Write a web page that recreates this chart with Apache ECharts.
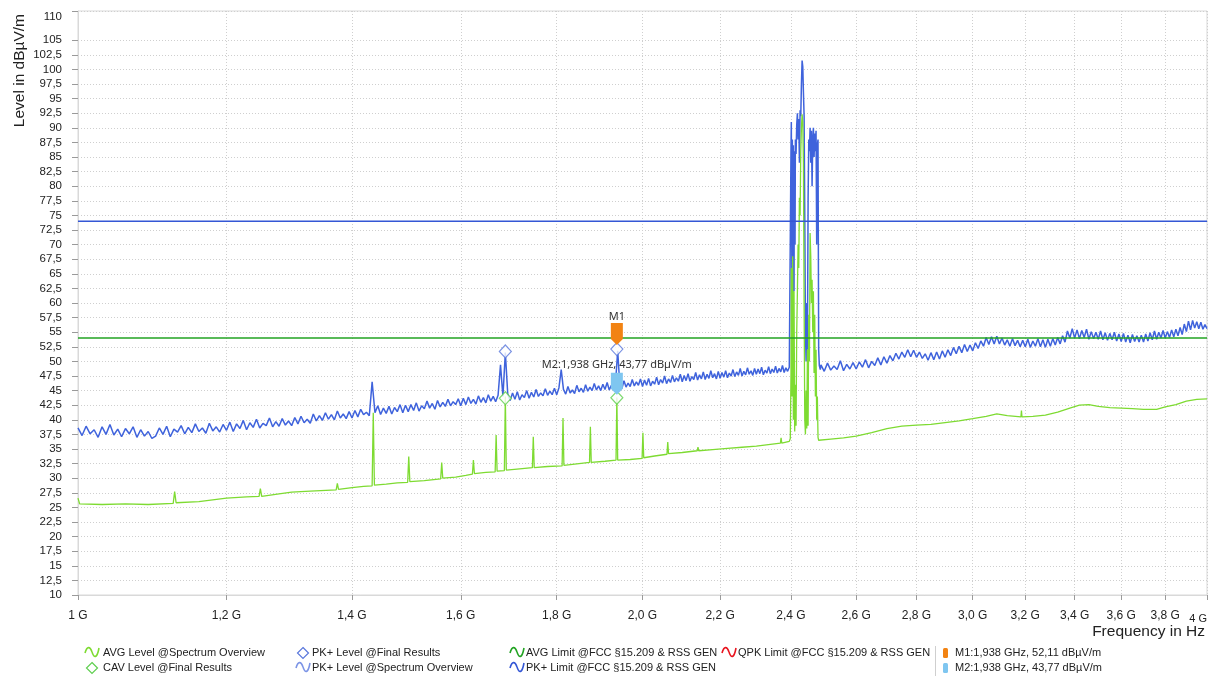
<!DOCTYPE html>
<html><head><meta charset="utf-8">
<script src="https://cdn.jsdelivr.net/npm/echarts@6/dist/echarts.min.js"></script>
<style>html,body{margin:0;padding:0;background:#fff}#c{width:1216px;height:679px}</style>
</head><body><div id="c"></div>
<script>
// ---------- axis ticks ----------
const xTickValues = [1, 1.2, 1.4, 1.6, 1.8, 2.0, 2.2, 2.4, 2.6, 2.8, 3.0, 3.2, 3.4, 3.6, 3.8, 4];
const xTickLabels = ['1 G', '1,2 G', '1,4 G', '1,6 G', '1,8 G', '2,0 G', '2,2 G', '2,4 G', '2,6 G', '2,8 G', '3,0 G', '3,2 G', '3,4 G', '3,6 G', '3,8 G', '4 G'];
const yTickValues = [10, 12.5, 15, 17.5, 20, 22.5, 25, 27.5, 30, 32.5, 35, 37.5, 40, 42.5, 45, 47.5, 50, 52.5, 55, 57.5, 60, 62.5, 65, 67.5, 70, 72.5, 75, 77.5, 80, 82.5, 85, 87.5, 90, 92.5, 95, 97.5, 100, 102.5, 105, 110];

// ---------- PK+ Level @Spectrum Overview (dBµV/m) ----------
// sweep part 1: 1.000 .. 2.395 GHz, 5 MHz sweep step
const pkSweep1Start = 1.0, pkSweep1Step = 0.005;
const pkSweep1Level = [
 38.6,37.3,38.9,37.6,38.3,37.0,38.8,37.5,39.2,37.4,38.4,37.1,38.5,37.6,38.8,37.0,38.3,37.2,38.0,36.8,
 37.2,38.6,37.5,38.9,37.1,38.4,37.9,39.0,37.6,38.7,37.8,39.3,38.0,38.6,37.7,39.4,38.1,38.8,37.9,39.2,
 38.2,39.6,38.0,39.3,38.5,39.9,38.3,39.5,38.7,40.1,38.6,39.4,39.0,40.3,38.8,39.7,38.9,40.2,39.1,39.8,
 39.0,40.4,39.3,40.6,39.5,40.1,39.4,41.0,39.8,40.7,39.9,41.2,40.1,40.9,40.0,41.5,40.3,41.0,40.2,41.4,
 40.3,41.6,40.5,41.8,40.9,41.3,40.7,46.5,41.2,42.4,40.9,42.0,41.1,42.3,41.0,42.1,41.4,42.6,41.2,42.5,
 41.4,42.6,41.6,42.9,41.5,42.4,41.9,43.2,42.0,42.8,41.8,43.3,42.2,43.0,42.3,43.5,42.4,43.1,42.6,43.6,
 42.4,43.7,42.6,43.9,42.8,43.5,42.7,44.1,43.0,43.8,42.9,44.3,43.2,44.0,43.1,44.2,49.4,44.0,51.5,44.4,
 43.3,44.6,43.5,44.8,43.4,44.3,43.8,45.0,43.7,44.7,43.9,45.2,44.0,44.6,44.1,45.3,44.2,44.9,44.3,45.4,
 44.3,45.5,48.6,45.2,44.4,45.7,44.6,45.1,44.5,45.9,44.8,45.4,44.7,46.0,44.9,45.6,45.0,46.2,45.1,45.8,
 45.0,46.1,45.2,46.4,45.1,45.9,45.4,46.5,51.8,46.0,45.3,46.7,45.6,46.3,45.7,46.9,45.8,46.5,45.9,47.0,
 45.7,46.8,45.9,47.1,45.8,46.6,46.1,47.3,46.0,46.9,46.3,47.5,46.2,47.0,46.4,47.6,46.5,47.2,46.6,47.8,
 46.5,47.6,46.7,47.9,46.6,47.4,46.9,48.1,46.8,47.7,47.0,48.2,46.9,47.8,47.1,48.4,47.2,47.9,47.0,48.3,
 47.1,48.1,47.3,48.4,47.2,48.0,47.5,48.6,47.4,48.2,47.6,48.8,47.5,48.3,47.7,48.9,47.8,48.4,47.6,48.8,
 47.8,48.7,47.9,49.0,47.7,48.5,48.0,49.1,47.9,48.7,48.1,49.2,48.0,48.8,48.2,49.3,48.1,48.9,48.3,49.0
];
// 2.4 GHz band detail
const pkBandFreq = [2.398,2.400,2.401,2.403,2.404,2.406,2.407,2.409,2.410,2.412,2.413,2.415,2.417,2.419,2.421,2.423,2.425,2.427,2.429,2.431,2.433,2.435,2.437,2.439,2.441,2.443,2.445,2.447,2.449,2.451,2.453,2.455,2.457,2.459,2.461,2.463,2.465,2.467,2.469,2.471,2.473,2.475,2.477,2.479,2.481,2.483,2.485,2.488];
const pkBandLevel = [48.8,86,91,60,88,55,87,62,86,70,88,85.5,90.5,92.5,88,91.5,84,93,92,97.5,101.5,100.5,96,92,75,55,50,60,52,78,88,86,90,84,89.5,80,88,90,85,89,86,89.5,70,87,88,52,49.3,48.6];
// sweep part 2: 2.49 .. 4.00 GHz, 10 MHz sweep step
const pkSweep2Start = 2.49, pkSweep2Step = 0.01;
const pkSweep2Level = [
 49.4,48.3,49.7,48.5,49.2,48.6,50.1,48.4,49.5,48.7,
 49.8,48.7,49.9,49.0,50.3,48.9,50.0,49.3,50.6,49.4,
 50.8,49.7,51.0,50.1,51.4,50.4,51.6,50.7,52.0,50.8,
 51.9,50.7,51.6,50.5,51.3,50.2,51.5,50.3,51.6,50.4,
 51.8,50.7,52.0,51.0,52.4,51.3,52.6,51.5,52.9,51.7,
 52.8,51.8,53.2,52.2,53.5,52.6,54.1,52.9,54.2,53.0,
 54.3,53.0,54.0,52.8,53.7,52.6,53.9,52.7,53.6,52.5,
 53.6,52.5,53.8,52.4,53.5,52.6,53.9,52.5,53.7,52.4,
 53.8,52.6,53.9,52.8,54.1,53.0,54.4,53.3,55.2,54.0,
 55.6,54.0,55.4,53.9,55.3,54.1,55.5,53.8,55.1,53.9,
 55.0,53.8,55.2,53.7,54.9,53.6,54.8,53.7,55.0,53.5,
 54.7,53.4,54.8,53.3,54.5,53.2,54.6,53.4,54.4,53.3,
 54.5,53.3,54.7,53.5,54.9,53.7,55.2,53.8,55.0,54.0,
 55.3,54.0,55.1,54.1,55.4,54.2,55.5,54.4,55.8,54.6,
 56.4,55.1,56.9,55.4,57.0,55.7,56.8,55.6,56.7,55.5,
 56.3,55.6
];

// ---------- AVG Level @Spectrum Overview ----------
const avgFreq = [1.000,1.002,1.030,1.060,1.090,1.124,1.126,1.128,1.160,1.200,1.230,1.249,1.251,1.253,1.280,1.300,1.330,1.373,1.375,1.377,1.400,1.420,1.435,1.437,1.439,1.460,1.480,1.499,1.501,1.503,1.530,1.561,1.563,1.565,1.590,1.610,1.623,1.625,1.627,1.650,1.669,1.671,1.673,1.688,1.690,1.692,1.720,1.747,1.749,1.751,1.780,1.812,1.814,1.816,1.850,1.874,1.876,1.878,1.910,1.936,1.938,1.940,1.970,1.999,2.001,2.003,2.030,2.061,2.063,2.065,2.100,2.139,2.141,2.143,2.180,2.220,2.260,2.300,2.340,2.369,2.371,2.373,
 2.395,2.398,2.400,2.401,2.403,2.405,2.407,2.409,2.411,2.413,2.415,2.417,2.419,2.421,2.423,2.425,2.427,2.429,2.431,2.433,2.435,2.437,2.439,2.441,2.443,2.445,2.447,2.449,2.451,2.453,2.455,2.457,2.459,2.461,2.463,2.465,2.467,2.469,2.471,2.473,2.475,2.477,2.479,2.481,2.483,2.486,
 2.520,2.560,2.600,2.650,2.700,2.750,2.800,2.850,2.900,2.950,3.000,3.050,3.090,3.130,3.183,3.185,3.187,3.230,3.280,3.330,3.380,3.420,3.460,3.500,3.550,3.600,3.650,3.700,3.760,3.800,3.850,3.900,3.950,4.000];
const avgLevel = [26.6,25.6,25.5,25.6,25.5,25.7,27.7,25.8,26.0,26.6,26.8,26.9,28.2,26.9,27.3,27.6,27.8,28.0,29.1,28.1,28.4,28.6,28.7,41.2,28.8,29.0,29.2,29.3,33.7,29.4,29.6,29.9,32.7,30.0,30.2,30.5,30.7,33.1,30.8,31.0,31.1,37.4,31.2,31.3,44.0,31.4,31.6,31.8,37.1,31.8,32.0,32.1,40.3,32.2,32.5,32.7,38.8,32.7,32.9,33.1,43.8,33.1,33.2,33.4,37.8,33.5,33.8,34.1,36.2,34.2,34.4,34.7,35.3,34.7,34.9,35.1,35.3,35.5,35.8,36.0,36.9,36.0,
 36.3,36.8,48,66,44,68,40,62,38,46,39,55,62,70,66,78,75,86,90,92.3,91,84,60,40,37.5,45,38.5,52,39,58,50,72,68,60,64,55,62,48,58,44,52,40,44,37,36.5,36.4,
 36.7,36.9,37.2,37.8,38.5,38.9,39.1,39.2,39.5,39.8,40.2,40.6,41.0,40.7,40.5,41.6,40.5,40.6,40.8,41.3,42.0,42.5,42.6,42.3,42.1,42.0,41.9,41.8,41.8,42.2,42.6,43.2,43.5,43.6];

// ---------- limits ----------
const pkLimitLevel = 74;
const avgLimitLevel = 54;
const freqRange = [1, 4];

// ---------- final results / markers ----------
const pkFinalFreq = [1.69, 1.938];
const pkFinalLevel = [51.7, 52.11];
const cavFinalFreq = [1.69, 1.938];
const cavFinalLevel = [43.7, 43.77];
const markerNames = ['M1', 'M2'];
const markerFreq = [1.938, 1.938];
const markerLevel = [52.11, 43.77];
const markerLabels = ['M1', 'M2:1,938 GHz, 43,77 dBµV/m'];
const markerLegend = ['M1:1,938 GHz, 52,11 dBµV/m', 'M2:1,938 GHz, 43,77 dBµV/m'];

// ---------- build series data ----------
const pkData = [];
pkSweep1Level.forEach((v, i) => pkData.push([+(pkSweep1Start + i * pkSweep1Step).toFixed(3), v]));
pkBandFreq.forEach((f, i) => pkData.push([f, pkBandLevel[i]]));
pkSweep2Level.forEach((v, i) => pkData.push([+(pkSweep2Start + i * pkSweep2Step).toFixed(3), v]));
const avgData = avgFreq.map((f, i) => [f, avgLevel[i]]);

const C = {
  pk: '#3f63dc', avg: '#7edb32', pkLim: '#3457d5', avgLim: '#22a322', qpk: '#e8141e',
  m1: '#f28313', m2: '#7fc6f0', pkFin: '#5a78dc', cavFin: '#5fcf4f'
};
const FONT = '"Liberation Sans", Arial, sans-serif';

const chart = echarts.init(document.getElementById('c'), null, {renderer: 'canvas'});

const flag = 'path://M0,0 L12,0 L12,16 L6,22 L0,16 Z';

// legend drawn as graphic
function sine(x, y, color) {
  const t = y - 6;
  return {type: 'group', children: [
    {type: 'bezierCurve', shape: {x1: x, y1: t + 6, cpx1: x + 2, cpy1: t - 1, cpx2: x + 5, cpy2: t - 1, x2: x + 7, y2: t + 5},
      style: {fill: null, stroke: color, lineWidth: 1.6}},
    {type: 'bezierCurve', shape: {x1: x + 7, y1: t + 5, cpx1: x + 9, cpy1: t + 11, cpx2: x + 12, cpy2: t + 12, x2: x + 14, y2: t + 1},
      style: {fill: null, stroke: color, lineWidth: 1.6}}
  ]};
}
function diamond(cx, cy, color) {
  return {type: 'polygon', shape: {points: [[cx, cy - 5.5], [cx + 5.5, cy], [cx, cy + 5.5], [cx - 5.5, cy]]},
    style: {fill: '#fff', stroke: color, lineWidth: 1.2}};
}
function txt(x, y, s) {
  return {type: 'text', x: x, y: y, style: {text: s, font: '11px ' + FONT, fill: '#222', verticalAlign: 'middle', align: 'left'}};
}
const R1 = 653, R2 = 668;
const legendGraphics = [
  sine(85, R1, C.avg), txt(103, R1, 'AVG Level @Spectrum Overview'),
  diamond(92, R2, C.cavFin), txt(103, R2, 'CAV Level @Final Results'),
  diamond(303, R1, C.pkFin), txt(312, R1, 'PK+ Level @Final Results'),
  sine(296, R2, '#7d95e6'), txt(312, R2, 'PK+ Level @Spectrum Overview'),
  sine(510, R1, C.avgLim), txt(526, R1, 'AVG Limit @FCC §15.209 & RSS GEN'),
  sine(510, R2, C.pkLim), txt(526, R2, 'PK+ Limit @FCC §15.209 & RSS GEN'),
  sine(722, R1, C.qpk), txt(738, R1, 'QPK Limit @FCC §15.209 & RSS GEN'),
  {type: 'line', shape: {x1: 935.5, y1: 646, x2: 935.5, y2: 676}, style: {stroke: '#cfcfcf', lineWidth: 1}},
  {type: 'rect', shape: {x: 943, y: R1 - 5, width: 5, height: 10, r: 1.5}, style: {fill: C.m1}},
  txt(955, R1, markerLegend[0]),
  {type: 'rect', shape: {x: 943, y: R2 - 5, width: 5, height: 10, r: 1.5}, style: {fill: C.m2}},
  txt(955, R2, markerLegend[1]),
  {type: 'text', x: 20, y: 14, rotation: Math.PI / 2,
    style: {text: 'Level in dBµV/m', font: '15.5px ' + FONT, fill: '#222', align: 'right', verticalAlign: 'middle'}},
  {type: 'text', x: 1205, y: 632,
    style: {text: 'Frequency in Hz', font: '15.5px ' + FONT, fill: '#222', align: 'right', verticalAlign: 'middle'}}
];

const option = {
  animation: false,
  backgroundColor: '#fff',
  grid: {left: 78, right: 9, top: 11, bottom: 84, show: true, borderColor: '#d9d9d9', borderWidth: 1, containLabel: false},
  xAxis: {
    type: 'log', logBase: 10, min: freqRange[0], max: freqRange[1],
    axisLine: {show: true, lineStyle: {color: '#d9d9d9'}},
    axisTick: {show: true, customValues: xTickValues, length: 5, lineStyle: {color: '#9a9a9a'}},
    axisLabel: {
      customValues: xTickValues, margin: 15, fontSize: 12, color: '#222', fontFamily: FONT,
      alignMaxLabel: 'right',
      formatter: function (v) {
        const i = xTickValues.findIndex(t => Math.abs(t - v) < 1e-6);
        const s = i >= 0 ? xTickLabels[i] : '';
        return i === xTickValues.length - 1 ? '{s|' + s + '}' : s;
      },
      rich: {s: {fontSize: 11, color: '#222', fontFamily: FONT, padding: [3, 0, 0, 0]}}
    },
    splitLine: {show: true, lineStyle: {color: '#cfcfcf', type: [1, 2], width: 1}},
    minorTick: {show: false}, minorSplitLine: {show: false}
  },
  yAxis: {
    type: 'value', min: 10, max: 110,
    axisLine: {show: true, lineStyle: {color: '#d9d9d9'}},
    axisTick: {show: true, customValues: yTickValues, length: 6, lineStyle: {color: '#9a9a9a'}},
    axisLabel: {
      customValues: yTickValues, margin: 16, fontSize: 11.5, color: '#222', fontFamily: FONT,
      verticalAlignMaxLabel: 'top',
      formatter: v => String(v).replace('.', ',')
    },
    splitLine: {show: true, lineStyle: {color: '#cfcfcf', type: [1, 2], width: 1}}
  },
  graphic: legendGraphics,
  series: [
    {name: 'PK+ Level @Spectrum Overview', type: 'line', data: pkData, symbol: 'none', showSymbol: false,
      lineStyle: {color: C.pk, width: 1.5}, itemStyle: {color: C.pk}, z: 2, silent: true},
    {name: 'AVG Level @Spectrum Overview', type: 'line', data: avgData, symbol: 'none', showSymbol: false,
      lineStyle: {color: C.avg, width: 1.3}, itemStyle: {color: C.avg}, z: 3, silent: true},
    {name: 'PK+ Limit @FCC §15.209 & RSS GEN', type: 'line', data: freqRange.map(f => [f, pkLimitLevel]), symbol: 'none',
      lineStyle: {color: C.pkLim, width: 1.6}, z: 4, silent: true},
    {name: 'AVG Limit @FCC §15.209 & RSS GEN', type: 'line', data: freqRange.map(f => [f, avgLimitLevel]), symbol: 'none',
      lineStyle: {color: C.avgLim, width: 1.6}, z: 4, silent: true},
    {name: 'PK+ Level @Final Results', type: 'scatter', data: pkFinalFreq.map((f, i) => [f, pkFinalLevel[i]]),
      symbol: 'diamond', symbolSize: [12, 13], itemStyle: {color: '#fff', borderColor: C.pkFin, borderWidth: 1.2}, z: 6, silent: true},
    {name: 'CAV Level @Final Results', type: 'scatter', data: cavFinalFreq.map((f, i) => [f, cavFinalLevel[i]]),
      symbol: 'diamond', symbolSize: [12, 13], itemStyle: {color: '#fff', borderColor: C.cavFin, borderWidth: 1.2}, z: 6, silent: true},
    {name: markerNames[0], type: 'scatter', data: [[markerFreq[0], markerLevel[0]]], symbol: flag, symbolSize: [12, 22],
      symbolOffset: [0, -15], itemStyle: {color: C.m1, opacity: 1}, z: 8, silent: true,
      label: {show: true, position: 'top', distance: 1, formatter: markerLabels[0], fontSize: 11, color: '#333', fontFamily: '"Noto Sans", "Open Sans", sans-serif'}},
    {name: markerNames[1], type: 'scatter', data: [[markerFreq[1], markerLevel[1]]], symbol: flag, symbolSize: [12, 22],
      symbolOffset: [0, -14], itemStyle: {color: C.m2, opacity: 1}, z: 8, silent: true,
      label: {show: true, position: 'top', distance: 2, formatter: markerLabels[1], fontSize: 11, color: '#333', fontFamily: '"Noto Sans", "Open Sans", sans-serif'}}
  ]
};
chart.setOption(option);
</script>
</body></html>
